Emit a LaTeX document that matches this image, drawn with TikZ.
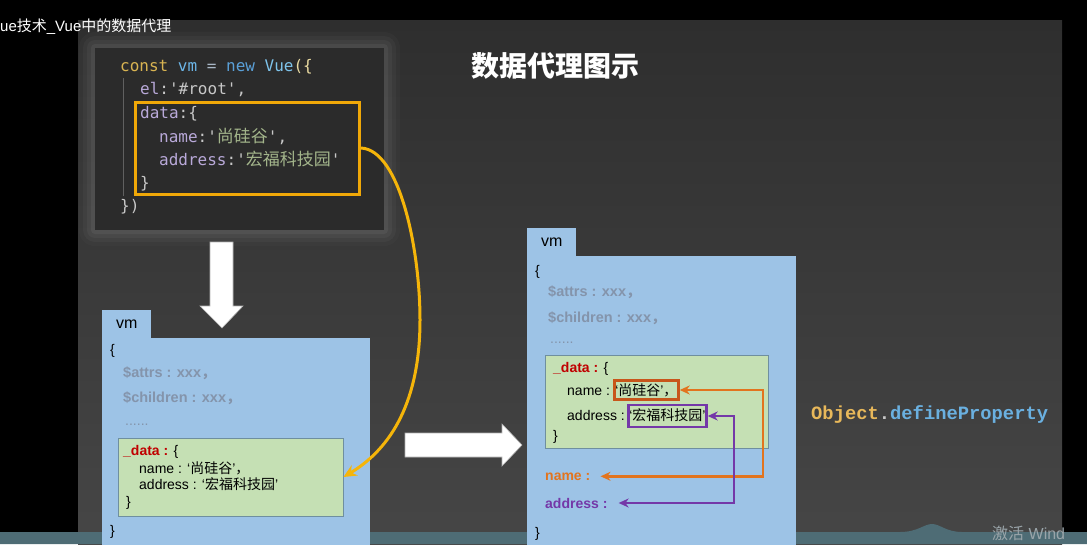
\documentclass[tikz,border=0pt]{standalone}
\usepackage{fontspec}
\setmainfont{Liberation Sans}
\newfontfamily\cjk{Noto Sans CJK SC}
\newfontfamily\codefont{DejaVu Sans Mono}
\newfontfamily\objfont{Liberation Mono}
\usetikzlibrary{arrows.meta}
\definecolor{slideTop}{HTML}{2E2E2E}
\definecolor{slideBot}{HTML}{464646}
\definecolor{codebg}{HTML}{2B2B2B}
\definecolor{kwc}{HTML}{D9B452}
\definecolor{vmc}{HTML}{6CB6E8}
\definecolor{opc}{HTML}{A9B7C6}
\definecolor{newc}{HTML}{5AA0D8}
\definecolor{clsc}{HTML}{7EC3EA}
\definecolor{brc}{HTML}{E8D9A0}
\definecolor{keyc}{HTML}{B9A9D9}
\definecolor{punc}{HTML}{C8C8C8}
\definecolor{strc}{HTML}{A3B58B}
\definecolor{amber}{HTML}{F0A808}
\definecolor{yarr}{HTML}{F5B50A}
\definecolor{panelc}{HTML}{9DC3E6}
\definecolor{greenc}{HTML}{C5E0B4}
\definecolor{greenb}{HTML}{6F8F9F}
\definecolor{grayt}{HTML}{8494AB}
\definecolor{dred}{HTML}{C00000}
\definecolor{orangec}{HTML}{E2741E}
\definecolor{oboxc}{HTML}{C8561A}
\definecolor{purplec}{HTML}{7438A8}
\definecolor{tealc}{HTML}{4E6C75}
\definecolor{objy}{HTML}{E8B85A}
\definecolor{objb}{HTML}{6AB0E0}
\definecolor{wm}{HTML}{9AA5AA}
\newcommand\sq{\textquotesingle}
\begin{document}
\begin{tikzpicture}[x=1pt,y=-1pt,
  txt/.style={anchor=base west, inner sep=0pt, font=\fontsize{14}{16}\selectfont},
  graytxt/.style={txt, text=grayt, font=\fontsize{14.5}{16}\selectfont\bfseries},
  codetxt/.style={anchor=base west, inner sep=0pt, font=\codefont\fontsize{16}{18}\selectfont},
  codebox/.style={fill=codebg, minimum width=289pt, minimum height=182pt, inner sep=0pt},
  databox/.style={draw=amber, line width=3pt, minimum width=224pt, minimum height=92pt, inner sep=0pt},
  vmtab/.style={fill=panelc, anchor=north west, minimum width=49pt, minimum height=28pt, inner sep=0pt, font=\fontsize{16}{18}\selectfont},
  vmbody/.style={fill=panelc, anchor=north west, inner sep=0pt},
  greenbox/.style={fill=greenc, draw=greenb, line width=1pt, inner sep=0pt},
  obox/.style={anchor=base west, draw=oboxc, line width=2.5pt, inner xsep=1pt, inner ysep=1.5pt, text height=13pt, text depth=3pt, font=\fontsize{14}{16}\selectfont},
  pbox/.style={anchor=base west, draw=purplec, line width=2.5pt, inner xsep=1pt, inner ysep=2pt, text height=13pt, text depth=5pt, font=\fontsize{14}{16}\selectfont},
  yarrow/.style={draw=yarr, line width=3pt, -{Stealth[length=13pt,width=12pt]}},
  oarrow/.style={draw=orangec, line width=2.5pt, {Stealth[length=10pt,width=9pt]}-{Stealth[length=10pt,width=9pt]}},
  parrow/.style={draw=purplec, line width=2pt, {Stealth[length=10pt,width=9pt]}-{Stealth[length=10pt,width=9pt]}},
  blockarrow/.style={fill=white, draw=gray!60, line width=0.6pt, line join=miter}
]
\useasboundingbox (0,0) rectangle (1087,544);
\clip (0,0) rectangle (1087,544);
% backgrounds
\fill[black] (0,0) rectangle (1087,544);
\shade[top color=slideTop, bottom color=slideBot] (78,20) rectangle (1062,544);
\fill[tealc] (0,532) -- (900,532) .. controls (918,532) and (924,524) .. (932,524) .. controls (940,524) and (946,532) .. (962,532) -- (1087,532) -- (1087,544) -- (0,544) -- cycle;
% header
\node[anchor=base west, inner sep=0pt, text=white, font=\fontsize{15}{17}\selectfont] (header) at (0,31) {ue{\cjk 技术}\_Vue{\cjk 中的数据代理}};
\node[text=white, inner sep=0pt, font=\cjk\bfseries\fontsize{28}{30}\selectfont] (title) at (555,66) {数据代理图示};
% code box halo
\foreach \r/\o in {16/0.02,12/0.03,8/0.04,4/0.05}
  \fill[white, opacity=\o, rounded corners=\r pt] ({95-\r},{48-\r}) rectangle ({384+\r},{230+\r});
\node[codebox] (code) at (239.5,139) {};
\draw[color=white!25!codebg, line width=0.6pt] (123,78) -- (123,196);
\node[codetxt] (c1) at (120,71) {\textcolor{kwc}{const} \textcolor{vmc}{vm} \textcolor{opc}{=} \textcolor{newc}{new} \textcolor{clsc}{Vue}\textcolor{brc}{(\{}};
\node[codetxt] (c2) at (140,94) {\textcolor{keyc}{el}\textcolor{punc}{:\sq\#root\sq,}};
\node[codetxt] (c3) at (140,118) {\textcolor{keyc}{data}\textcolor{punc}{:\{}};
\node[codetxt] (c4) at (159,142) {\textcolor{keyc}{name}\textcolor{punc}{:\sq}{\cjk\fontsize{17}{18}\selectfont\color{strc}尚硅谷}\textcolor{punc}{\sq,}};
\node[codetxt] (c5) at (159,165) {\textcolor{keyc}{address}\textcolor{punc}{:\sq}{\cjk\fontsize{17}{18}\selectfont\color{strc}宏福科技园}\textcolor{punc}{\sq}};
\node[codetxt] (c6) at (140,188) {\textcolor{punc}{\}}};
\node[codetxt] (c7) at (120,211) {\textcolor{punc}{\})}};
\node[databox] (dataBox) at (247.5,148) {};
% white block arrows
\draw[blockarrow] (210,242) -- (233,242) -- (233,306) -- (243,306) -- (222,328) -- (200,306) -- (210,306) -- cycle;
\draw[blockarrow] (405,433) -- (502,433) -- (502,424) -- (522,445) -- (502,466) -- (502,457) -- (405,457) -- cycle;
% left vm panel
\node[vmtab] (ltab) at (102,310) {vm};
\node[vmbody, minimum width=268pt, minimum height=230pt] (lvm) at (102,338) {};
\node[txt] (lo) at (110,354) {\{};
\node[graytxt] (la) at (123,377) {\$attrs : xxx{\cjk ，}};
\node[graytxt] (lc) at (123,402) {\$children : xxx{\cjk ，}};
\node[txt, text=grayt] (ld) at (125,425) {......};
\node[greenbox, minimum width=225pt, minimum height=78pt] (lgreen) at (230.5,477) {};
\node[txt] (ldata) at (123,455) {{\color{dred}\bfseries \_data :} \{};
\node[txt] (lname) at (139,473) {name : ‘{\cjk 尚硅谷}’{\cjk ，}};
\node[txt] (laddr) at (139,489) {address : ‘{\cjk 宏福科技园}’};
\node[txt] (lcl) at (126,506) {\}};
\node[txt] (lc2) at (110,535) {\}};
% yellow curved arrow
\draw[yarrow] (dataBox.east) .. controls (400,150) and (420,250) .. (420,320) .. controls (420,400) and (392,448) .. (lgreen.east);
% right vm panel
\node[vmtab] (rtab) at (527,228) {vm};
\node[vmbody, minimum width=269pt, minimum height=300pt] (rvm) at (527,256) {};
\node[txt] (ro) at (535,275) {\{};
\node[graytxt] (ra) at (548,296) {\$attrs : xxx{\cjk ，}};
\node[graytxt] (rc) at (548,322) {\$children : xxx{\cjk ，}};
\node[txt, text=grayt] (rd) at (550,343) {......};
\node[greenbox, minimum width=223pt, minimum height=93pt] (rgreen) at (656.5,401.5) {};
\node[txt] (rdata) at (553,372) {{\color{dred}\bfseries \_data :} \{};
\node[txt] (rname) at (567,395) {name : };
\node[obox] (obox) at (613,395) {‘{\cjk 尚硅谷}’{\cjk ，}};
\node[txt] (raddr) at (567,420) {address : };
\node[pbox] (pbox) at (627,420) {‘{\cjk 宏福科技园}’};
\node[txt] (rcl) at (553,440) {\}};
\node[txt, text=orangec, font=\fontsize{14}{16}\selectfont\bfseries] (nameK) at (545,480) {name :};
\node[txt, text=purplec, font=\fontsize{14}{16}\selectfont\bfseries] (addrK) at (545,508) {address :};
\node[txt] (rc2) at (535,537) {\}};
\coordinate (oturn) at (763,0);
\coordinate (pturn) at (734,0);
\draw[oarrow] (obox.east) -- (obox.east -| oturn) |- ([xshift=10pt]nameK.east);
\draw[parrow] (pbox.east) -- (pbox.east -| pturn) |- ([xshift=11pt]addrK.east);
% Object.defineProperty
\node[anchor=base west, inner sep=0pt, font=\objfont\bfseries\fontsize{18.8}{20}\selectfont] (odp) at (811,419) {\textcolor{objy}{Object}\textcolor{punc}{.}\textcolor{objb}{defineProperty}};
% watermark
\node[anchor=base west, inner sep=0pt, text=wm, font=\fontsize{16}{18}\selectfont] (wmk) at (992,539) {{\cjk 激活} Wind};
\end{tikzpicture}
\end{document}
